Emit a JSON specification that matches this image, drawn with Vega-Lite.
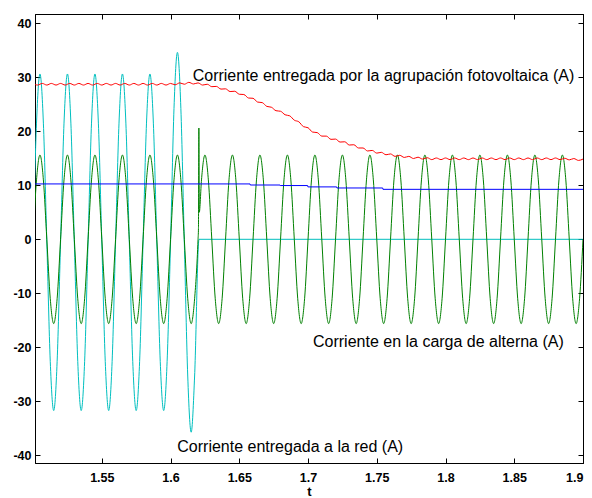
{
  "$schema": "https://vega.github.io/schema/vega-lite/v6.json",
  "width": 548,
  "height": 449,
  "autosize": {"type": "none"},
  "padding": {"left": 35, "top": 14, "right": 9, "bottom": 35},
  "background": "white",
  "config": {
    "view": {"stroke": "black", "strokeWidth": 1},
    "axis": {"grid": false, "domainColor": "black", "domainWidth": 1, "tickColor": "black", "tickSize": -5, "tickWidth": 1, "labelColor": "black", "labelFont": "Liberation Sans", "labelFontSize": 12.5, "labelFontWeight": "bold", "titleFont": "Liberation Sans", "titleFontWeight": "bold", "titleFontSize": 13, "titleColor": "black"}
  },
  "datasets": {
    "green": [
      {"t":1.5,"v":0},{"t":1.5025,"v":11},{"t":1.505,"v":15.6},{"t":1.5075,"v":11},{"t":1.51,"v":0},{"t":1.5125,"v":-11},{"t":1.515,"v":-15.6},{"t":1.5175,"v":-11},
      {"t":1.52,"v":0},{"t":1.5225,"v":11},{"t":1.525,"v":15.6},{"t":1.5275,"v":11},{"t":1.53,"v":0},{"t":1.5325,"v":-11},{"t":1.535,"v":-15.6},{"t":1.5375,"v":-11},
      {"t":1.54,"v":0},{"t":1.5425,"v":11},{"t":1.545,"v":15.6},{"t":1.5475,"v":11},{"t":1.55,"v":0},{"t":1.5525,"v":-11},{"t":1.555,"v":-15.6},{"t":1.5575,"v":-11},
      {"t":1.56,"v":0},{"t":1.5625,"v":11},{"t":1.565,"v":15.6},{"t":1.5675,"v":11},{"t":1.57,"v":0},{"t":1.5725,"v":-11},{"t":1.575,"v":-15.6},{"t":1.5775,"v":-11},
      {"t":1.58,"v":0},{"t":1.5825,"v":11},{"t":1.585,"v":15.6},{"t":1.5875,"v":11},{"t":1.59,"v":0},{"t":1.5925,"v":-11},{"t":1.595,"v":-15.6},{"t":1.5975,"v":-11},
      {"t":1.6,"v":0},{"t":1.6025,"v":11},{"t":1.605,"v":15.6},{"t":1.6075,"v":11},{"t":1.61,"v":0},{"t":1.6125,"v":-11},{"t":1.615,"v":-15.6},{"t":1.6175,"v":-11},
      {"t":1.62,"v":0},{"t":1.6203,"v":2},{"t":1.6206,"v":20.6},{"t":1.6209,"v":5},{"t":1.6225,"v":11},{"t":1.625,"v":15.6},{"t":1.6275,"v":11},{"t":1.63,"v":0},{"t":1.6325,"v":-11},{"t":1.635,"v":-15.6},{"t":1.6375,"v":-11},
      {"t":1.64,"v":0},{"t":1.6425,"v":11},{"t":1.645,"v":15.6},{"t":1.6475,"v":11},{"t":1.65,"v":0},{"t":1.6525,"v":-11},{"t":1.655,"v":-15.6},{"t":1.6575,"v":-11},
      {"t":1.66,"v":0},{"t":1.6625,"v":11},{"t":1.665,"v":15.6},{"t":1.6675,"v":11},{"t":1.67,"v":0},{"t":1.6725,"v":-11},{"t":1.675,"v":-15.6},{"t":1.6775,"v":-11},
      {"t":1.68,"v":0},{"t":1.6825,"v":11},{"t":1.685,"v":15.6},{"t":1.6875,"v":11},{"t":1.69,"v":0},{"t":1.6925,"v":-11},{"t":1.695,"v":-15.6},{"t":1.6975,"v":-11},
      {"t":1.7,"v":0},{"t":1.7025,"v":11},{"t":1.705,"v":15.6},{"t":1.7075,"v":11},{"t":1.71,"v":0},{"t":1.7125,"v":-11},{"t":1.715,"v":-15.6},{"t":1.7175,"v":-11},
      {"t":1.72,"v":0},{"t":1.7225,"v":11},{"t":1.725,"v":15.6},{"t":1.7275,"v":11},{"t":1.73,"v":0},{"t":1.7325,"v":-11},{"t":1.735,"v":-15.6},{"t":1.7375,"v":-11},
      {"t":1.74,"v":0},{"t":1.7425,"v":11},{"t":1.745,"v":15.6},{"t":1.7475,"v":11},{"t":1.75,"v":0},{"t":1.7525,"v":-11},{"t":1.755,"v":-15.6},{"t":1.7575,"v":-11},
      {"t":1.76,"v":0},{"t":1.7625,"v":11},{"t":1.765,"v":15.6},{"t":1.7675,"v":11},{"t":1.77,"v":0},{"t":1.7725,"v":-11},{"t":1.775,"v":-15.6},{"t":1.7775,"v":-11},
      {"t":1.78,"v":0},{"t":1.7825,"v":11},{"t":1.785,"v":15.6},{"t":1.7875,"v":11},{"t":1.79,"v":0},{"t":1.7925,"v":-11},{"t":1.795,"v":-15.6},{"t":1.7975,"v":-11},
      {"t":1.8,"v":0},{"t":1.8025,"v":11},{"t":1.805,"v":15.6},{"t":1.8075,"v":11},{"t":1.81,"v":0},{"t":1.8125,"v":-11},{"t":1.815,"v":-15.6},{"t":1.8175,"v":-11},
      {"t":1.82,"v":0},{"t":1.8225,"v":11},{"t":1.825,"v":15.6},{"t":1.8275,"v":11},{"t":1.83,"v":0},{"t":1.8325,"v":-11},{"t":1.835,"v":-15.6},{"t":1.8375,"v":-11},
      {"t":1.84,"v":0},{"t":1.8425,"v":11},{"t":1.845,"v":15.6},{"t":1.8475,"v":11},{"t":1.85,"v":0},{"t":1.8525,"v":-11},{"t":1.855,"v":-15.6},{"t":1.8575,"v":-11},
      {"t":1.86,"v":0},{"t":1.8625,"v":11},{"t":1.865,"v":15.6},{"t":1.8675,"v":11},{"t":1.87,"v":0},{"t":1.8725,"v":-11},{"t":1.875,"v":-15.6},{"t":1.8775,"v":-11},
      {"t":1.88,"v":0},{"t":1.8825,"v":11},{"t":1.885,"v":15.6},{"t":1.8875,"v":11},{"t":1.89,"v":0},{"t":1.8925,"v":-11},{"t":1.895,"v":-15.6},{"t":1.8975,"v":-11},
      {"t":1.9,"v":0}
    ],
    "cyan": [
      {"t":1.5,"v":-0.5},{"t":1.5025,"v":21.5},{"t":1.505,"v":30.6},{"t":1.5075,"v":21.5},{"t":1.51,"v":-0.5},{"t":1.5125,"v":-22.6},{"t":1.515,"v":-31.7},{"t":1.5175,"v":-22.6},
      {"t":1.52,"v":-0.5},{"t":1.5225,"v":21.5},{"t":1.525,"v":30.6},{"t":1.5275,"v":21.5},{"t":1.53,"v":-0.5},{"t":1.5325,"v":-22.6},{"t":1.535,"v":-31.7},{"t":1.5375,"v":-22.6},
      {"t":1.54,"v":-0.5},{"t":1.5425,"v":21.5},{"t":1.545,"v":30.6},{"t":1.5475,"v":21.5},{"t":1.55,"v":-0.5},{"t":1.5525,"v":-22.6},{"t":1.555,"v":-31.7},{"t":1.5575,"v":-22.6},
      {"t":1.56,"v":-0.5},{"t":1.5625,"v":21.5},{"t":1.565,"v":30.6},{"t":1.5675,"v":21.5},{"t":1.57,"v":-0.5},{"t":1.5725,"v":-22.6},{"t":1.575,"v":-31.7},{"t":1.5775,"v":-22.6},
      {"t":1.58,"v":-0.5},{"t":1.5825,"v":21.5},{"t":1.585,"v":30.6},{"t":1.5875,"v":21.5},{"t":1.59,"v":-0.5},{"t":1.5925,"v":-22.6},{"t":1.595,"v":-31.7},{"t":1.5975,"v":-22.6},
      {"t":1.6,"v":-0.5},{"t":1.6025,"v":24.2},{"t":1.605,"v":34.6},{"t":1.6075,"v":24.2},{"t":1.61,"v":-0.5},{"t":1.6125,"v":-25.3},{"t":1.615,"v":-35.7},{"t":1.6175,"v":-25.3},
      {"t":1.6207,"v":0},{"t":1.9,"v":0}
    ],
    "blue": [
      {"t":1.5,"v":10.25},{"t":1.6578,"v":10.25},{"t":1.658,"v":10.05},{"t":1.6796,"v":10.05},{"t":1.6798,"v":9.95},{"t":1.6997,"v":9.95},{"t":1.6999,"v":9.7},{"t":1.7208,"v":9.7},{"t":1.721,"v":9.5},{"t":1.7543,"v":9.5},{"t":1.7545,"v":9.25},{"t":1.9,"v":9.25}
    ],
    "red": [
      {"t":1.5,"v":28.85},{"t":1.5033,"v":28.55},{"t":1.5067,"v":28.85},{"t":1.51,"v":28.55},{"t":1.5133,"v":28.85},{"t":1.5167,"v":28.55},{"t":1.52,"v":28.85},{"t":1.5233,"v":28.55},{"t":1.5267,"v":28.85},{"t":1.53,"v":28.55},
      {"t":1.5333,"v":28.85},{"t":1.5367,"v":28.55},{"t":1.54,"v":28.85},{"t":1.5433,"v":28.55},{"t":1.5467,"v":28.85},{"t":1.55,"v":28.55},{"t":1.5533,"v":28.85},{"t":1.5567,"v":28.55},{"t":1.56,"v":28.85},{"t":1.5633,"v":28.55},
      {"t":1.5667,"v":28.85},{"t":1.57,"v":28.55},{"t":1.5733,"v":28.85},{"t":1.5767,"v":28.55},{"t":1.58,"v":28.85},{"t":1.5833,"v":28.55},{"t":1.5867,"v":28.85},{"t":1.59,"v":28.55},{"t":1.5933,"v":28.85},{"t":1.5967,"v":28.55},
      {"t":1.6,"v":28.85},{"t":1.6033,"v":28.6},{"t":1.6067,"v":28.95},{"t":1.61,"v":28.7},{"t":1.6133,"v":29.05},{"t":1.6167,"v":28.75},{"t":1.62,"v":28.95},{"t":1.6233,"v":28.55},{"t":1.6267,"v":28.7},{"t":1.63,"v":28.25},
      {"t":1.6333,"v":28.3},{"t":1.6367,"v":27.8},{"t":1.64,"v":27.85},{"t":1.6433,"v":27.35},{"t":1.6467,"v":27.4},{"t":1.65,"v":26.85},{"t":1.6533,"v":26.8},{"t":1.6567,"v":26.15},{"t":1.66,"v":26.1},{"t":1.6633,"v":25.4},
      {"t":1.6667,"v":25.3},{"t":1.67,"v":24.6},{"t":1.6733,"v":24.45},{"t":1.6767,"v":23.8},{"t":1.68,"v":23.7},{"t":1.6833,"v":23.05},{"t":1.6867,"v":22.85},{"t":1.69,"v":22.05},{"t":1.6933,"v":21.75},{"t":1.6967,"v":20.85},
      {"t":1.7,"v":20.65},{"t":1.7033,"v":19.85},{"t":1.7067,"v":19.75},{"t":1.71,"v":19.1},{"t":1.7133,"v":19.1},{"t":1.7167,"v":18.5},{"t":1.72,"v":18.55},{"t":1.7233,"v":18.0},{"t":1.7267,"v":18.05},{"t":1.73,"v":17.45},
      {"t":1.7333,"v":17.5},{"t":1.7367,"v":16.9},{"t":1.74,"v":16.9},{"t":1.7433,"v":16.35},{"t":1.7467,"v":16.45},{"t":1.75,"v":15.95},{"t":1.7533,"v":16.1},{"t":1.7567,"v":15.65},{"t":1.76,"v":15.8},{"t":1.7633,"v":15.35},
      {"t":1.7667,"v":15.55},{"t":1.77,"v":15.15},{"t":1.7733,"v":15.35},{"t":1.7767,"v":14.95},{"t":1.78,"v":15.2},{"t":1.7833,"v":14.85},{"t":1.7867,"v":15.1},{"t":1.79,"v":14.75},{"t":1.7933,"v":15.05},{"t":1.7967,"v":14.75},
      {"t":1.8,"v":15.05},{"t":1.8033,"v":14.75},{"t":1.8067,"v":15.05},{"t":1.81,"v":14.75},{"t":1.8133,"v":15.05},{"t":1.8167,"v":14.75},{"t":1.82,"v":15.05},{"t":1.8233,"v":14.75},{"t":1.8267,"v":15.05},{"t":1.83,"v":14.75},
      {"t":1.8333,"v":15.05},{"t":1.8367,"v":14.75},{"t":1.84,"v":15.05},{"t":1.8433,"v":14.75},{"t":1.8467,"v":15.05},{"t":1.85,"v":14.75},{"t":1.8533,"v":15.05},{"t":1.8567,"v":14.75},{"t":1.86,"v":15.05},{"t":1.8633,"v":14.75},
      {"t":1.8667,"v":15.05},{"t":1.87,"v":14.75},{"t":1.8733,"v":15.05},{"t":1.8767,"v":14.75},{"t":1.88,"v":15.05},{"t":1.8833,"v":14.75},{"t":1.8867,"v":15.0},{"t":1.89,"v":14.7},{"t":1.8933,"v":14.95},{"t":1.8967,"v":14.6},
      {"t":1.9,"v":14.85}
    ],
    "labels": [
      {"t":1.6161,"v":29.3,"label":"Corriente entregada por la agrupación fotovoltaica (A)"},
      {"t":1.7036,"v":-19.9,"label":"Corriente en la carga de alterna (A)"},
      {"t":1.6049,"v":-39.45,"label":"Corriente entregada a la red (A)"}
    ]
  },
  "resolve": {"axis": {"x": "independent", "y": "independent"}},
  "layer": [
    {
      "encoding": {
        "x": {"field": "t", "type": "quantitative", "scale": {"domain": [1.5014, 1.9], "nice": false, "zero": false},
              "axis": {"orient": "bottom", "values": [1.55, 1.6, 1.65, 1.7, 1.75, 1.8, 1.85, 1.9], "labelExpr": "toString(datum.value)", "title": "t", "labelPadding": 13, "titlePadding": 2}},
        "y": {"field": "v", "type": "quantitative", "scale": {"domain": [-41.4, 41.7], "nice": false, "zero": false},
              "axis": {"orient": "left", "values": [-40, -30, -20, -10, 0, 10, 20, 30, 40], "labelExpr": "toString(datum.value)", "title": null, "labelPadding": 9}}
      },
      "layer": [
        {"data": {"name": "cyan"}, "mark": {"type": "line", "color": "#00bfbf", "strokeWidth": 1, "interpolate": "monotone", "clip": true}},
        {"data": {"name": "green"}, "mark": {"type": "line", "color": "#008000", "strokeWidth": 1, "interpolate": "monotone", "clip": true}},
        {"data": {"name": "blue"}, "mark": {"type": "line", "color": "#0000ff", "strokeWidth": 1, "clip": true}},
        {"data": {"name": "red"}, "mark": {"type": "line", "color": "#ff0000", "strokeWidth": 1, "interpolate": "monotone", "clip": true}},
        {"data": {"name": "labels"}, "mark": {"type": "text", "align": "left", "baseline": "alphabetic", "font": "Liberation Sans", "fontSize": 16, "color": "black"}, "encoding": {"text": {"field": "label", "type": "nominal"}}}
      ]
    },
    {
      "data": {"name": "blue"},
      "mark": {"type": "line", "opacity": 0},
      "encoding": {
        "x": {"field": "t", "type": "quantitative", "scale": {"domain": [1.5014, 1.9], "nice": false, "zero": false},
              "axis": {"orient": "top", "values": [1.55, 1.6, 1.65, 1.7, 1.75, 1.8, 1.85, 1.9], "labels": false, "title": null}},
        "y": {"field": "v", "type": "quantitative", "scale": {"domain": [-41.4, 41.7], "nice": false, "zero": false},
              "axis": {"orient": "right", "values": [-40, -30, -20, -10, 0, 10, 20, 30, 40], "labels": false, "title": null}}
      }
    }
  ]
}
